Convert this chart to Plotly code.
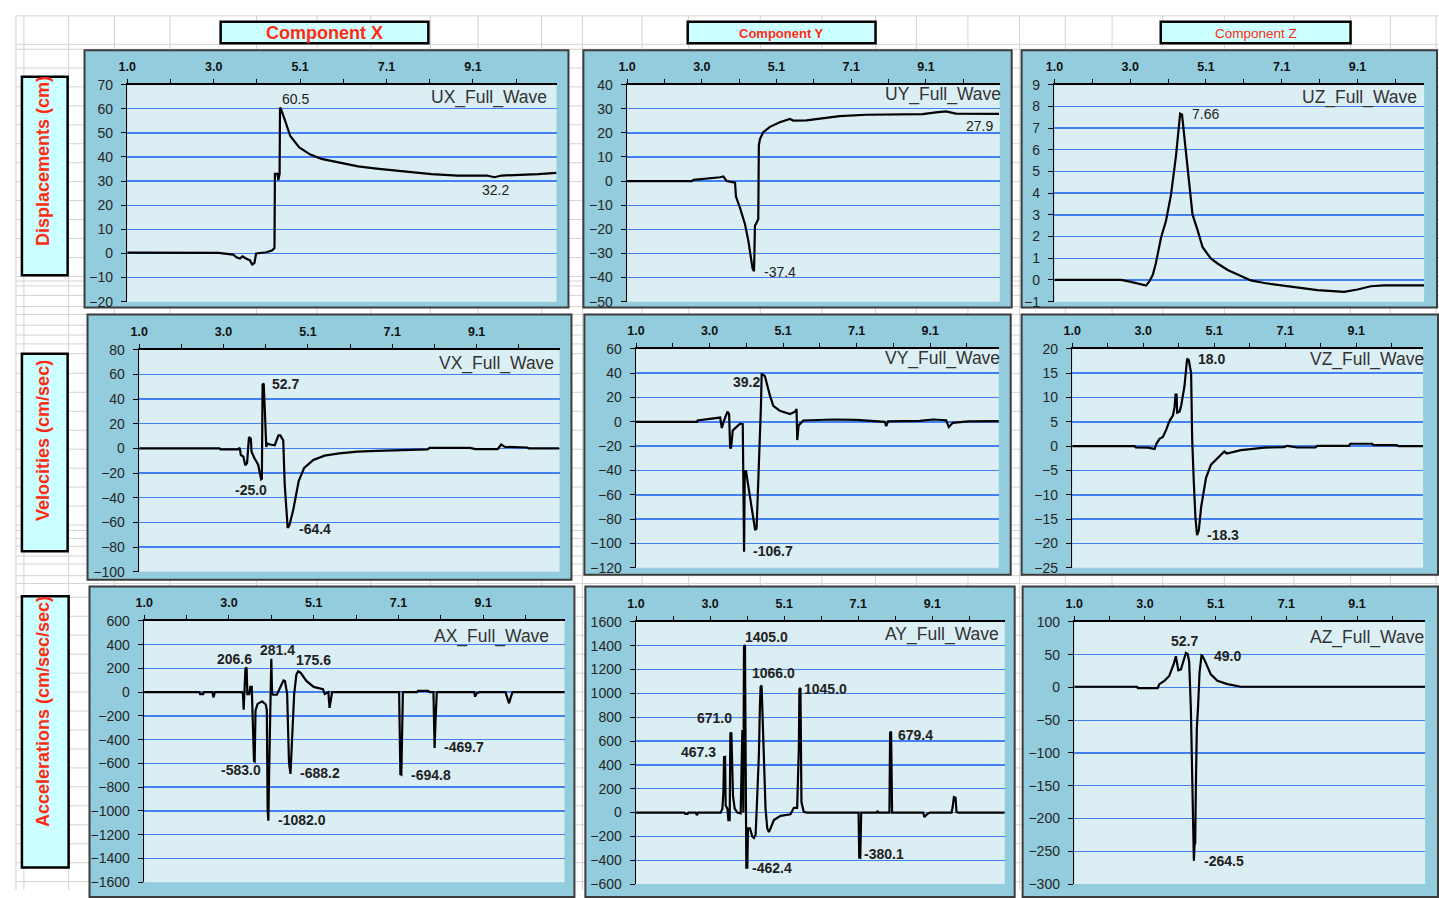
import plotly.graph_objects as go

W, H = 1439, 898

# ---------------- data (time in s, values) ----------------
X_TICK_LABELS = ['1.0', '3.0', '5.1', '7.1', '9.1']

UX_T = [1.0, 3.14, 3.48, 3.57, 3.64, 3.70, 3.78, 3.87, 3.93, 3.98, 4.02, 4.26, 4.39, 4.45, 4.46, 4.52, 4.54, 4.57, 4.58, 4.60,
        4.69, 4.82, 5.03, 5.29, 5.55, 5.98, 6.41, 6.84, 7.27, 7.70, 8.13, 8.74, 9.43, 9.60, 9.77, 10.63, 11.06]
UX_V = [0.3, 0.2, -0.5, -1.7, -2.1, -1.2, -2.1, -2.8, -4.6, -3.9, 0.0, 0.5, 1.2, 2.2, 33.0, 33.0, 30.4, 33.0, 60.5, 60.0,
        55.5, 48.7, 44.0, 41.0, 39.2, 37.5, 36.1, 35.2, 34.4, 33.5, 32.9, 32.3, 32.3, 31.6, 32.3, 32.9, 33.4]
UX_LABELS = [('60.5', 4.95, 64.0), ('32.2', 9.62, 26.4)]

UY_T = [1.0, 2.755, 2.80, 3.07, 3.25, 3.52, 3.61, 3.70, 3.925, 3.95, 4.06, 4.195, 4.285, 4.33, 4.40, 4.44, 4.465, 4.555, 4.57, 4.60,
        4.69, 4.87, 5.14, 5.41, 5.50, 5.86, 6.40, 6.76, 7.48, 9.01, 9.37, 9.64, 9.91, 11.08]
UY_V = [0.0, 0.0, 0.5, 0.8, 1.2, 1.6, 1.9, 0.0, -0.7, -6.4, -11.1, -17.9, -24.7, -28.7, -36.2, -37.4, -18.5, -15.8, 14.7, 17.4,
        20.3, 22.5, 24.4, 25.8, 25.1, 25.2, 26.2, 26.9, 27.5, 27.8, 28.5, 28.9, 28.0, 27.9]
UY_LABELS = [('-37.4', 5.14, -37.5), ('27.9', 10.54, 22.8)]

UZ_T = [1.0, 2.78, 3.05, 3.31, 3.45, 3.54, 3.63, 3.71, 3.85, 3.98, 4.115, 4.25, 4.32, 4.36, 4.41, 4.47, 4.56, 4.69, 4.83, 4.96,
        5.18, 5.36, 5.63, 5.895, 6.25, 6.61, 7.14, 7.675, 8.03, 8.74, 9.10, 9.455, 9.81, 10.88]
UZ_V = [0.0, 0.0, -0.09, -0.22, -0.26, -0.06, 0.24, 0.76, 1.96, 2.71, 3.92, 5.73, 6.94, 7.66, 7.62, 6.64, 4.98, 3.02, 2.27, 1.51,
        0.99, 0.76, 0.46, 0.24, -0.02, -0.14, -0.26, -0.37, -0.47, -0.55, -0.44, -0.29, -0.25, -0.25]
UZ_LABELS = [('7.66', 5.03, 7.64)]

VX_T = [1.0, 2.928, 2.954, 3.37, 3.414, 3.44, 3.50, 3.547, 3.59, 3.635, 3.68, 3.697, 3.768, 3.856, 3.927, 3.945, 3.962, 3.989,
        4.015, 4.05, 4.077, 4.139, 4.254, 4.343, 4.387, 4.458, 4.493, 4.564, 4.608, 4.696, 4.829, 4.96, 5.18, 5.45, 5.80, 6.24,
        6.686, 7.39, 7.924, 7.97, 8.897, 8.94, 9.07, 9.604, 9.69, 9.78, 10.31, 10.356, 11.08]
VX_V = [0.0, 0.0, -0.8, -0.8, 0.5, -5.3, -6.6, -13.7, -11.9, 9.3, 7.9, -2.6, -7.9, -13.2, -25.0, -24.5, 51.7, 52.7,
        32.0, 1.3, 4.0, 3.2, 2.6, 10.6, 10.6, 6.6, -29.1, -64.4, -62.1, -50.2, -26.4, -15.8, -9.3, -5.8, -4.0, -2.6,
        -1.9, -1.3, -0.8, 0.5, 0.0, 0.5, -0.5, -0.5, 3.2, 1.3, 0.8, 0.0, 0.0]
VX_LABELS = [('52.7', 4.52, 52.5), ('-25.0', 3.68, -33.8), ('-64.4', 5.23, -65.0)]

VY_T = [1.0, 2.675, 2.694, 2.95, 3.316, 3.362, 3.408, 3.518, 3.563, 3.591, 3.618, 3.664, 3.866, 3.939, 3.957, 3.975, 3.994,
        4.03, 4.14, 4.23, 4.28, 4.32, 4.37, 4.40, 4.44, 4.46, 4.51, 4.55, 4.69, 4.78, 4.96, 5.24, 5.376, 5.42, 5.44, 5.477,
        5.605, 6.43, 7.07, 7.53, 7.85, 7.89, 7.94, 8.81, 9.175, 9.54, 9.615, 9.725, 10.14, 11.006]
VY_V = [0.0, 0.0, 1.1, 1.9, 3.5, -5.1, -0.3, 8.3, 6.4, -21.2, -21.2, -7.0, -1.6, -1.9, -106.4, -106.7, -40.6,
        -40.6, -62.1, -78.2, -88.9, -87.5, -52.6, -20.3, 13.2, 39.2, 38.6, 37.4, 21.3, 13.2, 9.1, 6.4, 8.3, 10.5, -15.0, -3.0,
        1.1, 1.9, 1.6, 0.3, 0.0, -3.5, 0.3, 0.8, 1.9, 1.3, -4.3, -0.8, 0.3, 0.5]
VY_LABELS = [('39.2', 4.03, 32.6), ('-106.7', 4.78, -106.3)]

VZ_T = [1.0, 2.78, 2.81, 3.16, 3.35, 3.40, 3.49, 3.585, 3.68, 3.775, 3.87, 3.917, 3.945, 3.974, 3.993, 4.06, 4.106, 4.20,
        4.277, 4.324, 4.39, 4.42, 4.466, 4.513, 4.56, 4.61, 4.674, 4.816, 4.958, 5.195, 5.337, 5.41, 5.53, 5.81, 6.095,
        6.47, 7.04, 7.137, 7.42, 7.94, 7.99, 8.89, 8.936, 9.55, 9.60, 10.26, 10.31, 11.02]
VZ_V = [0.0, 0.0, -0.27, -0.3, -0.6, 0.5, 1.5, 1.9, 3.4, 5.2, 6.3, 7.9, 10.6, 10.6, 6.9, 7.1, 8.3, 12.3,
        18.0, 17.7, 15.0, 1.5, -7.2, -14.6, -18.3, -17.3, -12.6, -6.5, -3.8, -2.2, -1.1, -1.5, -1.3, -0.8, -0.6,
        -0.3, -0.2, 0.07, -0.27, -0.27, 0.07, 0.07, 0.5, 0.5, 0.2, 0.2, 0.0, 0.0]
VZ_LABELS = [('18.0', 4.96, 17.85), ('-18.3', 5.31, -18.3)]

AX_T = [1.0, 2.32, 2.338, 2.41, 2.426, 2.63, 2.655, 2.69, 3.333, 3.36, 3.377, 3.40, 3.42, 3.447, 3.465, 3.51, 3.536, 3.57,
        3.59, 3.624, 3.64, 3.66, 3.71, 3.817, 3.905, 3.93, 3.95, 3.967, 3.985, 4.00, 4.02, 4.037, 4.055, 4.08, 4.17, 4.257,
        4.328, 4.363, 4.416, 4.433, 4.46, 4.495, 4.52, 4.548, 4.583, 4.636, 4.68, 4.74, 4.874, 5.05, 5.27, 5.314, 5.40,
        5.428, 5.47, 5.49, 7.09, 7.12, 7.143, 7.18, 7.515, 7.54, 7.78, 7.82, 7.91, 7.937, 7.96, 7.99, 8.88, 8.905, 8.94,
        9.01, 9.63, 9.67, 9.716, 9.76, 9.80, 11.05]
AX_V = [0, 0, -16, -16, 0, 0, -44, 0, 0, -16, -148, -16, 198, 206.6, -16, -16, 44, 44,
        -292, -580, -583.0, -154, -99, -77, -104, -154, -1000, -1082.0, -676, -368, 270, 281.4, -3, -22, -22, 38,
        99, 94, -16, -250, -594, -688.2, -456, -236, -16, 148, 175.6, 162, 94, 44, 25, -16, 0,
        -132, -16, 0, 0, -690, -694.8, 0, 0, 11, 11, 0, 0, -469.7, -236, 0, 0, -38, -10,
        0, 0, -44, -94, -40, 0, 0]
AX_LABELS = [('206.6', 3.148, 281), ('281.4', 4.187, 358), ('175.6', 5.05, 273), ('-583.0', 3.307, -657),
             ('-1082.0', 4.76, -1080), ('-688.2', 5.2, -684), ('-694.8', 7.85, -695), ('-469.7', 8.64, -464)]

AY_T = [1.0, 2.317, 2.344, 2.41, 2.435, 2.634, 2.66, 2.70, 3.315, 3.36, 3.388, 3.406, 3.433, 3.45, 3.497, 3.524, 3.56,
        3.579, 3.606, 3.633, 3.65, 3.697, 3.77, 3.86, 3.906, 3.933, 3.951, 3.978, 3.996, 4.015, 4.042, 4.06, 4.114, 4.178,
        4.223, 4.269, 4.314, 4.36, 4.387, 4.405, 4.432, 4.46, 4.496, 4.54, 4.587, 4.632, 4.677, 4.768, 4.95, 5.222, 5.313,
        5.404, 5.45, 5.467, 5.495, 5.522, 5.585, 5.676, 7.084, 7.102, 7.13, 7.156, 7.583, 7.60, 7.637, 7.928, 7.946, 7.973,
        8.00, 8.854, 8.88, 8.963, 9.036, 9.626, 9.653, 9.69, 9.735, 9.762, 9.81, 11.08]
AY_V = [0, 0, -11, -11, 0, 0, -22, 0, 0, 33, 170, 465, 467.3, 60, 33, -63, -63,
        665, 671.0, 390, 143, 33, 0, -7, 693, 0, 1393, 1405.0, 308, -462, -462.4, -132, -132, -200,
        -213, -186, 143, 500, 900, 1055, 1066.0, 817, 391, 33, -132, -164, -132, -63, -27, -14, 40,
        40, 528, 1036, 1045.0, 88, 6, 0, 0, -378, -380.1, 0, 0, 14, 0, 0, 670, 679.4,
        0, 0, -38, -11, 0, 0, 40, 130, 125, 5, 0, 0]
AY_LABELS = [('1405.0', 4.56, 1471), ('1066.0', 4.75, 1169), ('1045.0', 6.19, 1037), ('671.0', 3.134, 795),
             ('467.3', 2.707, 507), ('679.4', 8.645, 650), ('-462.4', 4.73, -468), ('-380.1', 7.79, -350)]

AZ_T = [1.0, 2.80, 2.82, 3.39, 3.436, 3.58, 3.72, 3.845, 3.91, 3.94, 3.98, 4.055, 4.13, 4.197, 4.245, 4.29, 4.34, 4.37,
        4.39, 4.407, 4.426, 4.445, 4.464, 4.483, 4.51, 4.55, 4.588, 4.645, 4.673, 4.768, 4.91, 5.10, 5.387, 5.768, 11.05]
AZ_V = [1, 1, -1, -1, 5, 10, 17.5, 35, 47.5, 40, 26, 27.5, 42.5, 52.7, 51, 40, -32.5, -115,
        -210, -240, -264.5, -240, -237.5, -152.5, -62.5, -25, 22.5, 49.0, 48, 37.5, 20, 10, 5, 1, 1]
AZ_LABELS = [('52.7', 4.17, 71), ('49.0', 5.387, 47.5), ('-264.5', 5.29, -265)]

ROW_TITLES = ['Displacements (cm)', 'Velocities (cm/sec)', 'Accelerations (cm/sec/sec)']
COL_TITLES = ['Component X', 'Component Y', 'Component Z']


# ---------------- layout helpers (reference pixel -> paper) ----------------
def px(x):
    return x / W


def py(y):
    return 1 - y / H


def clamp(v):
    return max(0.0, min(1.0, v))


FONT = 'Liberation Sans, Arial, sans-serif'
RED = '#FF2A12'
FRAME_FILL = '#93CDDD'
PLOT_FILL = '#DBEEF3'
GRID_BLUE = '#4580F2'

panels = [
    dict(name='UX_Full_Wave', t=UX_T, v=UX_V, lab=UX_LABELS, yr=(-20, 70), dt=10, plot=(119, 78, 551, 299),
         frame=(76, 43, 563, 305), xend=11.06, npos=(543, 91), bold=False),
    dict(name='UY_Full_Wave', t=UY_T, v=UY_V, lab=UY_LABELS, yr=(-50, 40), dt=10, plot=(622, 78, 997, 299),
         frame=(578, 43, 1009, 305), xend=11.10, npos=(1000, 88), bold=False),
    dict(name='UZ_Full_Wave', t=UZ_T, v=UZ_V, lab=UZ_LABELS, yr=(-1, 9), dt=1, plot=(1052, 78, 1424, 299),
         frame=(1019, 43, 1437, 305), xend=10.88, npos=(1419, 91), bold=False),
    dict(name='VX_Full_Wave', t=VX_T, v=VX_V, lab=VX_LABELS, yr=(-100, 80), dt=20, plot=(131, 348, 554, 574),
         frame=(79, 312, 566, 582), xend=11.09, npos=(550, 362), bold=True),
    dict(name='VY_Full_Wave', t=VY_T, v=VY_V, lab=VY_LABELS, yr=(-120, 60), dt=20, plot=(631, 347, 996, 570),
         frame=(579, 312, 1008, 577), xend=10.99, npos=(999, 357), bold=True),
    dict(name='VZ_Full_Wave', t=VZ_T, v=VZ_V, lab=VZ_LABELS, yr=(-25, 20), dt=5, plot=(1070, 347, 1423, 570),
         frame=(1019, 312, 1438, 577), xend=11.01, npos=(1426, 358), bold=True),
    dict(name='AX_Full_Wave', t=AX_T, v=AX_V, lab=AX_LABELS, yr=(-1600, 600), dt=200, plot=(136, 624, 559, 890),
         frame=(81, 589, 569, 905), xend=11.04, npos=(545, 640), bold=True),
    dict(name='AY_Full_Wave', t=AY_T, v=AY_V, lab=AY_LABELS, yr=(-600, 1600), dt=200, plot=(631, 625, 1002, 892),
         frame=(580, 589, 1012, 905), xend=11.08, npos=(998, 638), bold=True),
    dict(name='AZ_Full_Wave', t=AZ_T, v=AZ_V, lab=AZ_LABELS, yr=(-300, 100), dt=50, plot=(1072, 625, 1425, 892),
         frame=(1020, 589, 1438, 905), xend=11.05, npos=(1426, 641), bold=True),
]

half = (9.1 - 1.0) / 8
tickvals = [1.0 + k * half for k in range(10)]
ticktext = [X_TICK_LABELS[k // 2] if k % 2 == 0 else '' for k in range(10)]

fig = go.Figure()
shapes = []
annotations = []

# spreadsheet grid
COL_X = [7, 15, 60, 106, 162, 249, 310, 364, 424, 472, 536, 577, 637, 684, 756, 818, 872, 913, 965, 1017,
         1063, 1110, 1161, 1223, 1293, 1350, 1390, 1436]
row_y = [8, 37, 42]
for start, stop, step in [(61, 300, 19.3), (372, 540, 19.3), (600, 898, 19.3)]:
    yy = start
    while yy < stop:
        row_y.append(yy)
        yy += step
row_y += [278, 283, 304, 312, 323, 333, 342, 352, 532, 540, 548, 558, 566, 578, 586]
for x in COL_X:
    shapes.append(dict(type='line', xref='paper', yref='paper', x0=px(x), x1=px(x), y0=py(8), y1=0,
                       line=dict(color='#D3D3D3', width=1), layer='below'))
for yv in row_y:
    shapes.append(dict(type='line', xref='paper', yref='paper', x0=px(7), x1=1, y0=py(yv), y1=py(yv),
                       line=dict(color='#D3D3D3', width=1), layer='below'))

layout_axes = {}
for i, p in enumerate(panels, start=1):
    l, t, r, b = p['plot']
    fl, ft, fr, fb = p['frame']
    xa = 'x' if i == 1 else f'x{i}'
    ya = 'y' if i == 1 else f'y{i}'
    shapes.append(dict(type='rect', xref='paper', yref='paper', x0=px(fl), x1=px(fr), y0=py(fb), y1=py(ft),
                       fillcolor=FRAME_FILL, line=dict(color='#3C3C3C', width=2), layer='below'))
    shapes.append(dict(type='rect', xref='paper', yref='paper', x0=px(l), x1=px(r), y0=py(b), y1=py(t),
                       fillcolor=PLOT_FILL, line=dict(width=0), layer='below'))

    fig.add_trace(go.Scatter(x=p['t'], y=p['v'], mode='lines', xaxis=xa, yaxis=ya,
                             line=dict(color='black', width=2.2), hoverinfo='skip', showlegend=False))

    key = 'xaxis' if i == 1 else f'xaxis{i}'
    layout_axes[key] = dict(
        domain=[clamp(px(l)), clamp(px(r))], anchor=ya, side='top', range=[1.0, p['xend']],
        tickmode='array', tickvals=tickvals, ticktext=ticktext, ticks='outside', ticklen=4, tickwidth=1,
        tickcolor='black', showline=True, linecolor='black', linewidth=1.5, showgrid=False, zeroline=False,
        ticklabelstandoff=3,
        tickfont=dict(family=FONT, size=12.5, color='#111111', weight='bold'), fixedrange=True)
    ykey = 'yaxis' if i == 1 else f'yaxis{i}'
    layout_axes[ykey] = dict(
        domain=[clamp(py(b)), clamp(py(t))], anchor=xa, range=list(p['yr']), tickmode='linear', tick0=p['yr'][0],
        dtick=p['dt'], ticks='outside', ticklen=5, tickwidth=1, tickcolor='black', showline=True,
        linecolor='black', linewidth=1.5, showgrid=True, gridcolor=GRID_BLUE, gridwidth=1.4, zeroline=False,
        ticklabelstandoff=5,
        tickfont=dict(family=FONT, size=14, color='#262626'), fixedrange=True)

    annotations.append(dict(xref='paper', yref='paper', x=px(p['npos'][0]), y=py(p['npos'][1]),
                            xanchor='right', yanchor='middle', text=p['name'], showarrow=False,
                            font=dict(family=FONT, size=17.5, color='#333333')))
    for txt, lt, lv in p['lab']:
        annotations.append(dict(xref=xa, yref=ya, x=lt, y=lv, text=txt, showarrow=False,
                                xanchor='center', yanchor='middle',
                                font=dict(family=FONT, size=14, color='#222222',
                                          weight='bold' if p['bold'] else 'normal')))

# row title boxes
row_boxes = [(13, 70, 59, 272, 156), (13, 352, 59, 553, 440), (13, 599, 60, 875, 716)]
for (l, t, r, b, cy), title in zip(row_boxes, ROW_TITLES):
    shapes.append(dict(type='rect', xref='paper', yref='paper', x0=px(l), x1=px(r), y0=py(b), y1=py(t),
                       fillcolor='#CCFFFF', line=dict(color='black', width=2.5), layer='below'))
    annotations.append(dict(xref='paper', yref='paper', x=px(34), y=py(cy), text=title,
                            textangle=-90, showarrow=False, xanchor='center', yanchor='middle',
                            font=dict(family=FONT, size=18, color=RED, weight='bold')))

# column title boxes
col_boxes = [(213, 14, 422, 36, 18, 'bold'), (683, 14, 872, 36, 13, 'bold'), (1159, 14, 1350, 36, 13.5, 'normal')]
for (l, t, r, b, fs, fw), title in zip(col_boxes, COL_TITLES):
    shapes.append(dict(type='rect', xref='paper', yref='paper', x0=px(l), x1=px(r), y0=py(b), y1=py(t),
                       fillcolor='#CCFFFF', line=dict(color='black', width=2.5), layer='below'))
    annotations.append(dict(xref='paper', yref='paper', x=px((l + r) / 2), y=py((t + b) / 2 + 0.5), text=title,
                            showarrow=False, xanchor='center', yanchor='middle',
                            font=dict(family=FONT, size=fs, color=RED, weight=fw)))

fig.update_layout(
    width=W, height=H, margin=dict(l=0, r=0, t=0, b=0, pad=0),
    paper_bgcolor='white', plot_bgcolor='rgba(0,0,0,0)', showlegend=False,
    shapes=shapes, annotations=annotations, **layout_axes)

fig.write_html("out.html", config=dict(displayModeBar=False, staticPlot=True),
               post_script="document.body.style.margin='0px';document.body.style.overflow='hidden';")
